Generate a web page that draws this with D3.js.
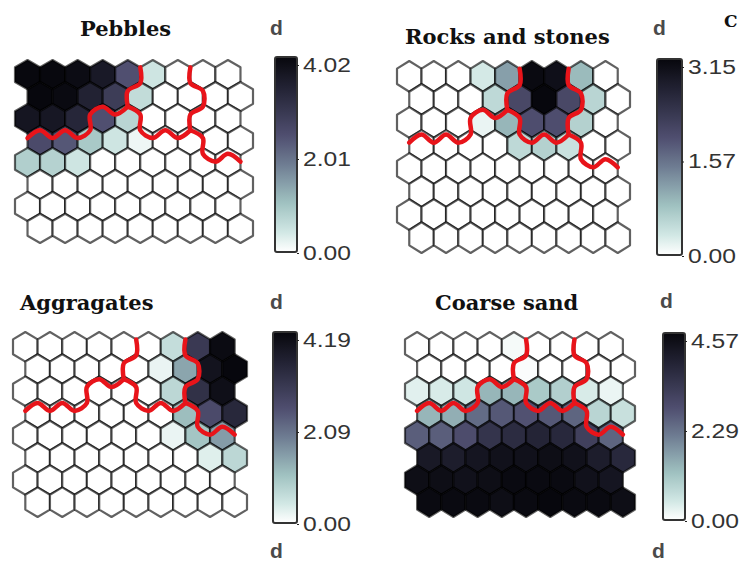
<!DOCTYPE html>
<html lang="en">
<head>
<meta charset="UTF-8">
<title>SOM component planes</title>
<style>
  body { margin: 0; background: #fff; }
  .title { font-family: "DejaVu Serif", serif; font-weight: bold; font-size: 21px; fill: #111; }
  .key text { font-family: "Liberation Sans", Arial, sans-serif; font-size: 20px; fill: #333; }
  .key .domain { display: none; }
  .key line { stroke: #222; }
  .dlab { font-family: "Liberation Sans", Arial, sans-serif; font-size: 21px; font-weight: bold; fill: #4a4a4a; }
</style>
</head>
<body>
<svg width="746" height="562"></svg>
<script src="https://d3js.org/d3.v7.min.js"></script>
<script>
// ---- data ----
var titles = ["Pebbles", "Rocks and stones", "Aggragates", "Coarse sand"];
var maxima = [4.02, 3.15, 4.19, 4.57];
var tickLabels = [
  ["0.00", "2.01", "4.02"],
  ["0.00", "1.57", "3.15"],
  ["0.00", "2.09", "4.19"],
  ["0.00", "2.29", "4.57"]
];

// 8 rows (top first) x 9 columns, 2nd/4th/.. rows shifted right
var pebbles = [
  [4.00, 4.00, 3.90, 3.60, 2.40, 0.45, 0, 0, 0],
  [4.02, 3.95, 3.40, 2.80, 0.60, 0, 0, 0, 0],
  [3.70, 3.65, 3.30, 2.40, 0.70, 0, 0, 0, 0],
  [2.50, 2.30, 0.90, 0.45, 0.15, 0, 0, 0, 0],
  [0.80, 0.75, 0.45, 0, 0, 0, 0, 0, 0],
  [0, 0, 0, 0, 0, 0, 0, 0, 0],
  [0, 0, 0, 0, 0, 0, 0, 0, 0],
  [0, 0, 0, 0, 0, 0, 0, 0, 0]
];
var rocks = [
  [0, 0, 0, 0.30, 1.10, 3.10, 3.00, 0.85, 0],
  [0, 0, 0, 0.50, 2.00, 3.15, 2.00, 0.55, 0],
  [0, 0, 0, 0.15, 0.90, 1.90, 1.90, 0.60, 0],
  [0, 0, 0, 0, 0.50, 0.60, 0.40, 0, 0],
  [0, 0, 0, 0, 0, 0, 0, 0, 0],
  [0, 0, 0, 0, 0, 0, 0, 0, 0],
  [0, 0, 0, 0, 0, 0, 0, 0, 0],
  [0, 0, 0, 0, 0, 0, 0, 0, 0]
];
var aggragates = [
  [0, 0, 0, 0, 0, 0, 0.60, 3.00, 4.10],
  [0, 0, 0, 0, 0, 0.20, 1.40, 3.90, 4.19],
  [0, 0, 0, 0, 0, 0, 0.70, 3.20, 4.00],
  [0, 0, 0, 0, 0, 0, 1.10, 2.60, 3.40],
  [0, 0, 0, 0, 0, 0, 0.20, 1.00, 1.50],
  [0, 0, 0, 0, 0, 0, 0, 0.30, 0.70],
  [0, 0, 0, 0, 0, 0, 0, 0, 0],
  [0, 0, 0, 0, 0, 0, 0, 0, 0]
];
var coarseSand = [
  [0, 0, 0, 0, 0.10, 0, 0, 0, 0],
  [0, 0, 0, 0, 0.05, 0, 0, 0, 0],
  [0.30, 0.40, 0.50, 1.30, 1.30, 1.00, 0.90, 0.40, 0.20],
  [1.30, 1.40, 2.30, 2.60, 2.70, 2.60, 2.40, 0.80, 0.60],
  [2.50, 2.50, 2.80, 3.40, 3.60, 3.80, 3.70, 3.10, 2.40],
  [4.10, 4.00, 4.20, 4.30, 4.30, 4.40, 4.30, 4.00, 3.70],
  [4.40, 4.40, 4.30, 4.40, 4.50, 4.50, 4.50, 4.30, 4.20],
  [4.50, 4.50, 4.50, 4.40, 4.50, 4.57, 4.50, 4.50, 4.40]
];
// cluster of each unit (same for all planes); red lines separate them
var clusters = [
  [1, 1, 1, 1, 1, 2, 2, 3, 3],
  [1, 1, 1, 1, 2, 2, 2, 3, 3],
  [1, 1, 1, 0, 0, 2, 2, 3, 3],
  [0, 0, 0, 0, 0, 0, 0, 3, 3],
  [0, 0, 0, 0, 0, 0, 0, 0, 0],
  [0, 0, 0, 0, 0, 0, 0, 0, 0],
  [0, 0, 0, 0, 0, 0, 0, 0, 0],
  [0, 0, 0, 0, 0, 0, 0, 0, 0]
];
var planes = [pebbles, rocks, aggragates, coarseSand];

// ---- layout ----
var layout = [
  {grid: [15, 253, 60, 243], title: [80, 36], bar: [275, 57, 22, 195], d: [270, 35]},
  {grid: [397, 630, 61, 253], title: [405, 44], bar: [657, 59, 25, 196], d: [653, 35]},
  {grid: [13, 247, 332, 517], title: [20, 310], bar: [273, 332, 24, 191], d: [270, 309]},
  {grid: [405, 635, 332, 517], title: [435, 310], bar: [663, 333, 22, 187], d: [660, 308]}
];

var svg = d3.select("svg");
svg.append("rect").attr("width", 746).attr("height", 562).attr("fill", "#fff");

var color = d3.scaleLinear()
  .domain([0, 0.1, 0.25, 0.45, 0.6, 0.8, 1])
  .range(["#ffffff", "#d2e8e5", "#a0c2c1", "#6e7c92", "#4f4e6f", "#2a2a3e", "#07070d"]);

var defs = svg.append("defs");
var grad = defs.append("linearGradient").attr("id", "keygrad")
  .attr("x1", 0).attr("y1", 1).attr("x2", 0).attr("y2", 0);
d3.range(0, 1.0001, 0.05).forEach(function(t) {
  grad.append("stop").attr("offset", t).attr("stop-color", color(t));
});

var nRows = clusters.length, nCols = clusters[0].length;

// unit positions in hex units: u = hex widths, v = hex radius
function cellU(r, c) { return c + 0.5 + (r % 2 ? 0.5 : 0); }
function cellV(r) { return 1 + 1.5 * r; }

function lowerLeft(r, c) { return r % 2 ? [r + 1, c] : [r + 1, c - 1]; }
function lowerRight(r, c) { return r % 2 ? [r + 1, c + 1] : [r + 1, c]; }
function clusterAt(p) {
  if (p[0] < 0 || p[0] >= nRows || p[1] < 0 || p[1] >= nCols) return null;
  return clusters[p[0]][p[1]];
}

var cells = [];
for (var r = 0; r < nRows; r++)
  for (var c = 0; c < nCols; c++) cells.push({r: r, c: c});

// hex edges between units of different clusters
var edges = [];
cells.forEach(function(d) {
  var u = cellU(d.r, d.c), v = cellV(d.r), k = clusters[d.r][d.c];
  var right = clusterAt([d.r, d.c + 1]);
  var lr = clusterAt(lowerRight(d.r, d.c));
  var ll = clusterAt(lowerLeft(d.r, d.c));
  if (right !== null && right !== k) edges.push([[u + 0.5, v - 0.5], [u + 0.5, v + 0.5]]);
  if (lr !== null && lr !== k) edges.push([[u + 0.5, v + 0.5], [u, v + 1]]);
  if (ll !== null && ll !== k) edges.push([[u, v + 1], [u - 0.5, v + 0.5]]);
});

// join the edges into chains so they can be drawn as wavy lines
function chainEdges(list) {
  var key = function(p) { return p[0] + "," + p[1]; };
  var adj = {}, used = list.map(function() { return false; });
  list.forEach(function(e, i) {
    e.forEach(function(p) { (adj[key(p)] = adj[key(p)] || []).push(i); });
  });
  var chains = [];
  function walk(start, i) {
    var pts = [start], cur = start;
    while (i !== undefined) {
      used[i] = true;
      var e = list[i];
      var next = key(e[0]) === key(cur) ? e[1] : e[0];
      pts.push(next);
      cur = next;
      var nb = adj[key(cur)];
      i = nb.length === 2 ? nb.find(function(j) { return !used[j]; }) : undefined;
    }
    chains.push(pts);
  }
  Object.keys(adj).forEach(function(k) {
    if (adj[k].length !== 2) adj[k].forEach(function(i) {
      if (!used[i]) {
        var e = list[i];
        walk(key(e[0]) === k ? e[0] : e[1], i);
      }
    });
  });
  list.forEach(function(e, i) { if (!used[i]) walk(e[0], i); });
  return chains;
}
var chains = chainEdges(edges);

planes.forEach(function(values, i) {
  var L = layout[i];
  var x = d3.scaleLinear().domain([0, nCols + 0.5]).range([L.grid[0], L.grid[1]]);
  var y = d3.scaleLinear().domain([0, 1.5 * (nRows - 1) + 2]).range([L.grid[2], L.grid[3]]);
  // the red overlay sits a little lower on the grid in the original
  var yb = d3.scaleLinear().domain(y.domain()).range([L.grid[2] - 0.5, L.grid[3] + 13]);
  var line = d3.line().x(function(p) { return x(p[0]); }).y(function(p) { return y(p[1]); });
  var redLine = d3.line().x(function(p) { return x(p[0]); }).y(function(p) { return yb(p[1]); })
    .curve(d3.curveCatmullRom.alpha(0.5));
  var g = svg.append("g");

  g.selectAll("path.hex")
    .data(cells)
    .join("path")
    .attr("class", "hex")
    .attr("d", function(d) {
      var u = cellU(d.r, d.c), v = cellV(d.r);
      return line([[u, v - 1], [u + 0.5, v - 0.5], [u + 0.5, v + 0.5], [u, v + 1],
                   [u - 0.5, v + 0.5], [u - 0.5, v - 0.5]]) + "Z";
    })
    .attr("fill", function(d) { return color(values[d.r][d.c] / maxima[i]); })
    .attr("stroke", "#000")
    .attr("stroke-opacity", 0.62)
    .attr("stroke-width", 2.2)
    .attr("stroke-linejoin", "round");

  g.selectAll("path.bound")
    .data(chains)
    .join("path")
    .attr("class", "bound")
    .attr("d", redLine)
    .attr("fill", "none")
    .attr("stroke", "#e8141a")
    .attr("stroke-width", 4.5)
    .attr("stroke-linecap", "round")
    .attr("stroke-linejoin", "round");

  svg.append("text").attr("class", "title")
    .attr("x", L.title[0]).attr("y", L.title[1])
    .text(titles[i]);

  // colour key
  var bx = L.bar[0], by = L.bar[1], bw = L.bar[2], bh = L.bar[3];
  svg.append("rect")
    .attr("x", bx).attr("y", by).attr("width", bw).attr("height", bh)
    .attr("rx", 2)
    .attr("fill", "url(#keygrad)")
    .attr("stroke", "#333").attr("stroke-width", 2);

  var ky = d3.scaleLinear().domain([0, maxima[i]]).range([by + bh + 1, by + 8]);
  var key = svg.append("g").attr("class", "key")
    .attr("transform", "translate(" + (bx + bw) + ",0)")
    .call(d3.axisRight(ky)
      .tickValues([0, maxima[i] / 2, maxima[i]])
      .tickSize(2)
      .tickPadding(4)
      .tickFormat(function(d, j) { return tickLabels[i][j]; }));
  key.selectAll("text")
    .attr("textLength", 48)
    .attr("lengthAdjust", "spacingAndGlyphs");

  svg.append("text").attr("class", "dlab")
    .attr("x", L.d[0]).attr("y", L.d[1]).text("d");
});

// labels of the next row of panels, cut by the bottom edge
svg.append("text").attr("class", "dlab").attr("x", 270).attr("y", 558).text("d");
svg.append("text").attr("class", "dlab").attr("x", 652).attr("y", 558).text("d");

svg.append("text")
  .attr("x", 724).attr("y", 27)
  .attr("font-family", "DejaVu Serif, serif")
  .attr("font-weight", "bold")
  .attr("font-size", 17)
  .attr("fill", "#111")
  .text("C");
</script>
</body>
</html>
